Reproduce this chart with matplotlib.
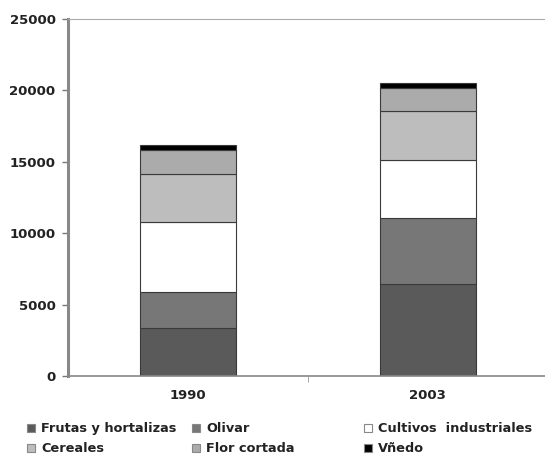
import matplotlib
matplotlib.use("Agg")
import matplotlib.pyplot as plt
from matplotlib.patches import Patch
import numpy as np

categories = ["1990", "2003"]
series_names = ["Frutas y hortalizas", "Olivar", "Cultivos  industriales",
                "Cereales", "Flor cortada", "Vñedo"]
frutas = [3350, 6450]
olivar = [2500, 4650]
cultivos = [4950, 4000]
cereales = [3350, 3450]
flor = [1650, 1650]
vinedo = [400, 300]
yticks = [0, 5000, 10000, 15000, 20000, 25000]

series = [frutas, olivar, cultivos, cereales, flor, vinedo]
colors = ["#5a5a5a", "#777777", "#ffffff", "#bdbdbd", "#ababab", "#000000"]

plt.rcParams['font.family'] = ['DejaVu Sans']
fs = 9.5
fig = plt.figure(figsize=(5.45, 4.58), dpi=100)
ax = fig.add_axes([0.1248, 0.179, 0.88, 0.7795])

x = np.arange(len(categories))
bottom = np.zeros(len(categories))
for vals, c in zip(series, colors):
    ax.bar(x, vals, width=0.4, bottom=bottom, color=c, edgecolor="#3a3a3a", linewidth=0.8)
    bottom += np.array(vals)

ax.set_xlim(-0.5, 1.5)
ax.set_ylim(0, 25000)
ax.set_yticks(yticks)
ax.set_yticklabels([str(t) for t in yticks], fontsize=fs, fontweight='bold', color="#222222")
ax.set_xticks(x)
ax.set_xticklabels(categories, fontsize=fs, fontweight='bold', color="#222222")
ax.set_xticks([0.5], minor=True)
ax.tick_params(axis='x', which='major', length=0, pad=9)
ax.tick_params(axis='x', which='minor', length=4, color="#999999", direction='out')
ax.tick_params(axis='y', length=4, color="#777777", width=1, pad=5)

ax.spines["right"].set_visible(False)
ax.spines["top"].set_color("#aaaaaa")
ax.spines["top"].set_linewidth(0.8)
ax.spines["left"].set_color("#888888")
ax.spines["left"].set_linewidth(2.2)
ax.spines["bottom"].set_color("#888888")
ax.spines["bottom"].set_linewidth(1.2)

handles = [Patch(facecolor=c, edgecolor="#888888", linewidth=0.8) for c in colors]
col_x = [0.05, 0.352, 0.668]
for i in range(3):
    hs = [handles[i], handles[i + 3]]
    ls = [series_names[i], series_names[i + 3]]
    fig.legend(hs, ls, loc="upper left", bbox_to_anchor=(col_x[i], 0.078),
               frameon=False, handlelength=0.6, handleheight=0.6, handletextpad=0.5,
               labelspacing=0.55, borderaxespad=0, borderpad=0,
               prop={'size': 9.3, 'weight': 'bold'}, labelcolor="#222222")

fig.savefig("out.png", dpi=100)
